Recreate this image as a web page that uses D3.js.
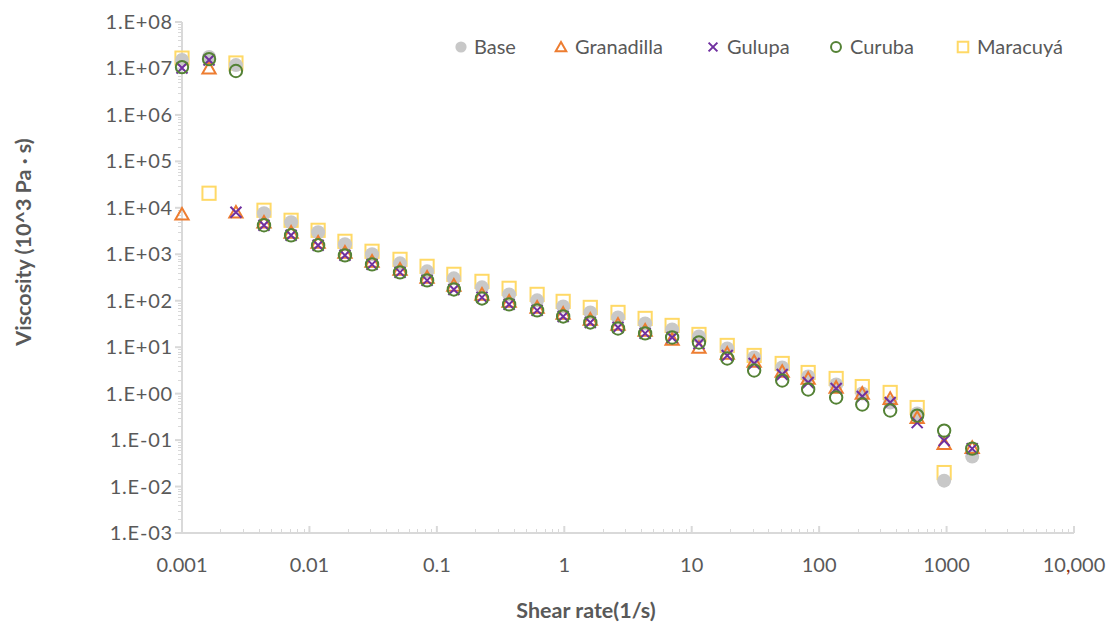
<!DOCTYPE html>
<html>
<head>
<meta charset="utf-8">
<script src="https://cdn.jsdelivr.net/npm/d3@7"></script>
<style>
  html, body { margin: 0; padding: 0; background: #ffffff; }
  svg { display: block; }
  text { font-family: Lato, "Liberation Sans", sans-serif; fill: #595959; }
</style>
</head>
<body>
<svg id="chart" width="1110" height="625"></svg>
<script>
// Shear rate (1/s) at each measurement step
const shearRate = [0.001, 0.00163, 0.00265, 0.0044, 0.00718, 0.0117, 0.019, 0.031, 0.0514, 0.0838,
  0.136, 0.226, 0.369, 0.612, 0.98, 1.6, 2.64, 4.31, 7.02, 11.4,
  19.0, 30.9, 51.3, 82.0, 136, 218, 361, 588, 957, 1589];

// Viscosity (10^3 Pa·s) for each formulation
const base = [1.52e7, 1.76e7, 1.18e7, 7630, 4890, 2970, 1640, 998, 638, 429,
  303, 194, 137, 102, 75.5, 56.0, 43.7, 32.5, 24.1, 17.0,
  9.39, 6.01, 3.66, 2.34, 1.57, 1.01, 0.644, 0.373, 0.0134, 0.0441];
const granadilla = [7270, 1.02e7, 8020, 4890, 2970, 1810, 1100, 704, 474, 318,
  214, 137, 96.8, 71.8, 53.3, 39.6, 30.9, 23.0, 14.7, 9.86,
  7.33, 4.92, 3.00, 2.12, 1.36, 1.01, 0.785, 0.305, 0.0841, 0.0689];
const gulupa = [1.02e7, 1.52e7, 8020, 4210, 2560, 1560, 949, 607, 408, 274,
  175, 118, 83.4, 61.9, 45.9, 34.1, 26.6, 19.8, 16.2, 12.0,
  6.63, 4.46, 2.58, 1.74, 1.29, 0.867, 0.644, 0.238, 0.0976, 0.0656];
const curuba = [1.07e7, 1.59e7, 8.8e6, 4210, 2560, 1560, 949, 607, 408, 274,
  175, 112, 83.4, 61.9, 45.9, 34.1, 25.3, 19.8, 16.2, 12.6,
  5.72, 3.15, 1.92, 1.23, 0.825, 0.583, 0.433, 0.337, 0.160, 0.0656];
const maracuya = [1.67e7, 2.06e4, 1.31e7, 8860, 5390, 3280, 1900, 1160, 778, 550,
  370, 261, 185, 137, 96.8, 71.8, 56.0, 41.6, 29.4, 18.8,
  10.9, 6.63, 4.46, 2.85, 2.12, 1.42, 1.06, 0.502, 0.0200, null];

const seriesNames = ["Base", "Granadilla", "Gulupa", "Curuba", "Maracuyá"];

// Axis tick values and labels
const xTickValues = [0.001, 0.01, 0.1, 1, 10, 100, 1000, 10000];
const xTickLabels = ["0.001", "0.01", "0.1", "1", "10", "100", "1000", "10,000"];
const yTickValues = [1e-3, 1e-2, 1e-1, 1e0, 1e1, 1e2, 1e3, 1e4, 1e5, 1e6, 1e7, 1e8];
const yTickLabels = ["1.E-03", "1.E-02", "1.E-01", "1.E+00", "1.E+01", "1.E+02",
  "1.E+03", "1.E+04", "1.E+05", "1.E+06", "1.E+07", "1.E+08"];

const svg = d3.select("#chart");
const plot = { left: 182, right: 1074, top: 22, bottom: 533 };

const x = d3.scaleLog().domain([0.001, 10000]).range([plot.left, plot.right]);
const y = d3.scaleLog().domain([1e-3, 1e8]).range([plot.bottom, plot.top]);

const axisColor = "#d9d9d9";

// minor tick values (2..9 within each decade)
function minorTicks(lo, hi) {
  const out = [];
  for (let e = Math.round(Math.log10(lo)); e < Math.round(Math.log10(hi)); e++) {
    for (let m = 2; m <= 9; m++) out.push(m * Math.pow(10, e));
  }
  return out;
}

// ---- Y axis ----
const yAxisG = svg.append("g");
yAxisG.append("line")
  .attr("x1", plot.left).attr("x2", plot.left)
  .attr("y1", plot.top).attr("y2", plot.bottom)
  .attr("stroke", axisColor).attr("stroke-width", 2);
yAxisG.selectAll("line.ymin").data(minorTicks(1e-3, 1e8)).join("line")
  .attr("class", "ymin")
  .attr("x1", plot.left - 4).attr("x2", plot.left)
  .attr("y1", d => Math.round(y(d)) + 0.5).attr("y2", d => Math.round(y(d)) + 0.5)
  .attr("stroke", axisColor).attr("stroke-width", 1);
yAxisG.selectAll("line.ymaj").data(yTickValues).join("line")
  .attr("class", "ymaj")
  .attr("x1", plot.left - 7).attr("x2", plot.left)
  .attr("y1", d => y(d)).attr("y2", d => y(d))
  .attr("stroke", axisColor).attr("stroke-width", 2);
yAxisG.selectAll("text").data(yTickValues).join("text")
  .attr("x", 173).attr("y", d => y(d))
  .attr("dy", "0.35em")
  .attr("text-anchor", "end")
  .style("font-size", "20px")
  .style("letter-spacing", "0.8px")
  .text((d, i) => yTickLabels[i]);

// ---- X axis ----
const xAxisG = svg.append("g");
xAxisG.append("line")
  .attr("x1", plot.left).attr("x2", plot.right)
  .attr("y1", plot.bottom).attr("y2", plot.bottom)
  .attr("stroke", axisColor).attr("stroke-width", 2);
xAxisG.selectAll("line.xmin").data(minorTicks(0.001, 10000)).join("line")
  .attr("class", "xmin")
  .attr("x1", d => Math.round(x(d)) + 0.5).attr("x2", d => Math.round(x(d)) + 0.5)
  .attr("y1", plot.bottom - 4).attr("y2", plot.bottom)
  .attr("stroke", axisColor).attr("stroke-width", 1);
xAxisG.selectAll("line.xmaj").data(xTickValues).join("line")
  .attr("class", "xmaj")
  .attr("x1", d => x(d)).attr("x2", d => x(d))
  .attr("y1", plot.bottom - 7).attr("y2", plot.bottom)
  .attr("stroke", axisColor).attr("stroke-width", 2);
const xLabels = xAxisG.selectAll("text").data(xTickValues).join("text")
  .attr("x", d => x(d)).attr("y", 572)
  .attr("text-anchor", "middle")
  .style("font-size", "20px");
xLabels.each(function (d, i) {
  const t = d3.select(this);
  const lab = xTickLabels[i];
  const k = lab.indexOf(",");
  if (k < 0) { t.text(lab); return; }
  t.append("tspan").text(lab.slice(0, k));
  t.append("tspan").style("fill", "#8a2a0a").text(",");
  t.append("tspan").text(lab.slice(k + 1));
});

// ---- Axis titles ----
svg.append("text")
  .attr("x", 586).attr("y", 618)
  .attr("text-anchor", "middle")
  .style("font-size", "21.5px").style("font-weight", "bold")
  .text("Shear rate(1/s)");
svg.append("text")
  .attr("transform", "translate(31,242) rotate(-90)")
  .attr("text-anchor", "middle")
  .style("font-size", "21.5px").style("font-weight", "bold")
  .text("Viscosity (10^3 Pa · s)");

// ---- Marker shapes ----
const styles = {
  "Base":       { color: "#c8c8c8" },
  "Granadilla": { color: "#ed7d31" },
  "Gulupa":     { color: "#7030a0" },
  "Curuba":     { color: "#548235" },
  "Maracuyá":   { color: "#ffd966" }
};

function drawMarker(g, name, s) {
  const c = styles[name].color;
  if (name === "Base") {
    g.append("circle").attr("r", 7 * s).attr("fill", c);
  } else if (name === "Granadilla") {
    const h = 6.3 * s;
    g.append("path")
      .attr("d", `M0,${-h}L${h * 1.05},${h * 0.85}L${-h * 1.05},${h * 0.85}Z`)
      .attr("fill", "none").attr("stroke", c).attr("stroke-width", 2);
  } else if (name === "Gulupa") {
    const h = 5.5 * s;
    g.append("path")
      .attr("d", `M${-h},${-h}L${h},${h}M${h},${-h}L${-h},${h}`)
      .attr("fill", "none").attr("stroke", c).attr("stroke-width", 2);
  } else if (name === "Curuba") {
    g.append("circle").attr("r", 6.2 * s)
      .attr("fill", "none").attr("stroke", c).attr("stroke-width", 2);
  } else {
    const h = 6.6 * s;
    g.append("rect").attr("x", -h).attr("y", -h).attr("width", 2 * h).attr("height", 2 * h)
      .attr("fill", "none").attr("stroke", c).attr("stroke-width", 2);
  }
}

// ---- Data points (drawn back to front) ----
const seriesData = {
  "Base": base, "Granadilla": granadilla, "Gulupa": gulupa,
  "Curuba": curuba, "Maracuyá": maracuya
};
const drawOrder = ["Maracuyá", "Base", "Granadilla", "Gulupa", "Curuba"];
const pointsG = svg.append("g");
drawOrder.forEach(name => {
  const vals = seriesData[name];
  const pts = shearRate.map((sr, i) => ({ sr, v: vals[i] })).filter(p => p.v != null);
  pointsG.append("g").selectAll("g").data(pts).join("g")
    .attr("transform", p => `translate(${x(p.sr)},${y(p.v)})`)
    .each(function () { drawMarker(d3.select(this), name, 1); });
});

// ---- Legend ----
const legendItems = [
  { name: "Base", mx: 461, tx: 474 },
  { name: "Granadilla", mx: 561, tx: 575 },
  { name: "Gulupa", mx: 713, tx: 727 },
  { name: "Curuba", mx: 836, tx: 850 },
  { name: "Maracuyá", mx: 963, tx: 977 }
];
const legendG = svg.append("g");
legendItems.forEach(it => {
  const g = legendG.append("g").attr("transform", `translate(${it.mx},47)`);
  drawMarker(g, it.name, 0.8);
  legendG.append("text")
    .attr("x", it.tx).attr("y", 47).attr("dy", "0.35em")
    .style("font-size", "20px")
    .text(it.name);
});
</script>
</body>
</html>
